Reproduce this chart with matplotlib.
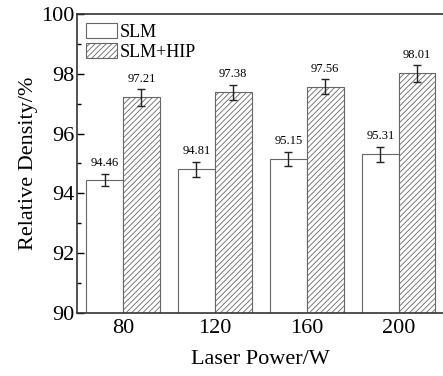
import numpy as np
import matplotlib
matplotlib.use("Agg")
import matplotlib.pyplot as plt
from matplotlib.ticker import MultipleLocator

# data
powers = ["80", "120", "160", "200"]
slm = [94.46, 94.81, 95.15, 95.31]
slm_err = [0.2, 0.25, 0.25, 0.25]
hip = [97.21, 97.38, 97.56, 98.01]
hip_err = [0.28, 0.25, 0.25, 0.28]

plt.rcParams['font.family'] = ['Liberation Serif', 'DejaVu Serif']
plt.rcParams['hatch.color'] = '#888888'
plt.rcParams['hatch.linewidth'] = 0.6

fig = plt.figure(figsize=(4.43, 3.76), dpi=100)
ax = fig.add_axes([0.1738, 0.1676, 0.83, 0.7952])

x = np.arange(len(powers))
w = 0.4
ax.bar(x - w, slm, w, align='edge', color='white',
       edgecolor='#666666', linewidth=0.8, label='SLM')
ax.bar(x, hip, w, align='edge', color='white', edgecolor='#666666',
       linewidth=0.8, hatch='//////', label='SLM+HIP')
ax.errorbar(x - w / 2, slm, yerr=slm_err, fmt='none', ecolor='#222222',
            elinewidth=1.0, capsize=3, capthick=1.0)
ax.errorbar(x + w / 2, hip, yerr=hip_err, fmt='none', ecolor='#222222',
            elinewidth=1.0, capsize=3, capthick=1.0)

for xi, v, e in zip(x - w / 2, slm, slm_err):
    ax.text(xi, v + e + 0.15, f"{v:.2f}", ha='center', va='bottom', fontsize=9)
for xi, v, e in zip(x + w / 2, hip, hip_err):
    ax.text(xi, v + e + 0.15, f"{v:.2f}", ha='center', va='bottom', fontsize=9)

ax.set_xlim(-0.5, 3.5)
ax.set_ylim(90, 100)
ax.set_xticks(x)
ax.set_xticklabels(powers)
ax.yaxis.set_major_locator(MultipleLocator(2))
ax.yaxis.set_minor_locator(MultipleLocator(1))
ax.tick_params(axis='y', which='major', direction='in', length=5, width=1,
               labelsize=16, pad=2)
ax.tick_params(axis='y', which='minor', direction='in', length=3, width=1)
ax.tick_params(axis='x', length=0, labelsize=16, pad=4)

for s in ax.spines.values():
    s.set_linewidth(1.2)
    s.set_color('#333333')
# the right edge of the frame is cut off in the reference
ax.spines['right'].set_visible(False)

ax.set_ylabel("Relative Density/%", fontsize=16, labelpad=2)
ax.set_xlabel("Laser Power/W", fontsize=16, labelpad=9)

ax.legend(loc='upper left', frameon=False, fontsize=13, handlelength=1.7,
          handleheight=0.9, handletextpad=0.15, labelspacing=0.15,
          borderaxespad=0.3, borderpad=0.2)

fig.savefig("out.png", dpi=100)
